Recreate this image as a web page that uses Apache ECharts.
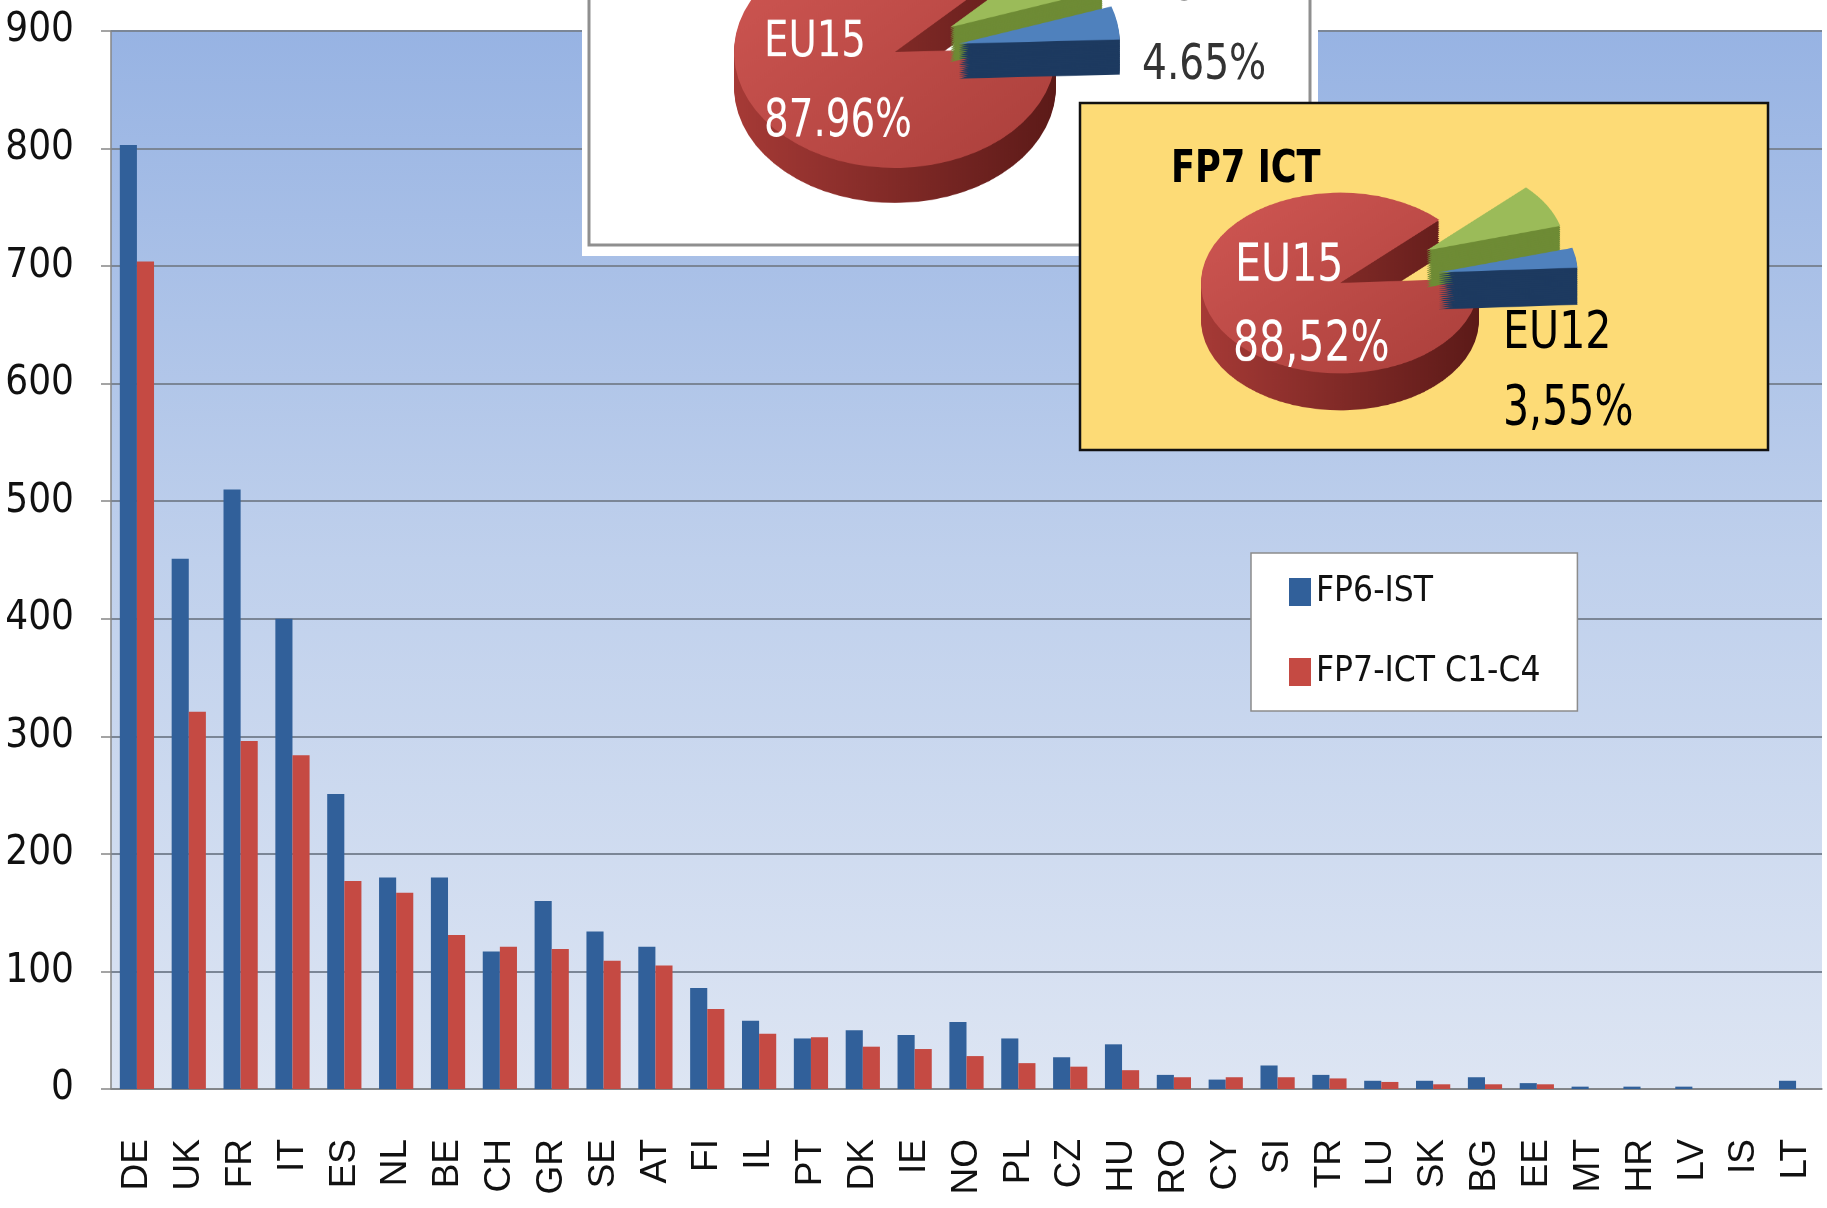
<!DOCTYPE html>
<html lang="en">
<head>
<meta charset="UTF-8">
<title>FP6-IST / FP7-ICT participations</title>
<script src="https://cdn.jsdelivr.net/npm/echarts@6/dist/echarts.min.js"></script>
<style>
    html, body { margin: 0; padding: 0; background: #fff; }
    #main { position: absolute; left: 0; top: 0; width: 1827px; height: 1208px; }
    .pie { position: absolute; transform-origin: 0 0; }
</style>
</head>
<body>
<div id="main"></div>
<div id="pieFp6" class="pie"></div>
<div id="pieFp7" class="pie"></div>
<script>
// bar chart data
var countries = ['DE', 'UK', 'FR', 'IT', 'ES', 'NL', 'BE', 'CH', 'GR', 'SE', 'AT', 'FI', 'IL', 'PT', 'DK', 'IE', 'NO',
    'PL', 'CZ', 'HU', 'RO', 'CY', 'SI', 'TR', 'LU', 'SK', 'BG', 'EE', 'MT', 'HR', 'LV', 'IS', 'LT'];
var fp6Values = [803, 451, 510, 400, 251, 180, 180, 117, 160, 134, 121, 86, 58, 43, 50, 46, 57,
    43, 27, 38, 12, 8, 20, 12, 7, 7, 10, 5, 2, 2, 2, 0, 7];
var fp7Values = [704, 321, 296, 284, 177, 167, 131, 121, 119, 109, 105, 68, 47, 44, 36, 34, 28,
    22, 19, 16, 10, 10, 10, 9, 6, 4, 4, 4, 0, 0, 0, 0, 0];
var seriesNames = ['FP6-IST', 'FP7-ICT C1-C4'];
var yMin = 0, yMax = 900, yStep = 100;

// pie insets (EU15 / other / EU12 shares, in %)
var shareNames = ['EU15', 'Other', 'EU12'];
var fp6Shares = [87.96, 7.39, 4.65];
var fp7Shares = [88.52, 7.93, 3.55];

var NARROW = "'Liberation Sans Narrow', 'DejaVu Sans Condensed', 'Open Sans', sans-serif";
var SANS = "'Liberation Sans', Arial, sans-serif";

var myChart = echarts.init(document.getElementById('main'));

// text squeezed horizontally to look like the condensed font of the original
function txt(text, x, y, size, color, bold, sx) {
    return {
        type: 'text', x: x, y: y, z: 20, silent: true, scaleX: sx || 0.85,
        style: {text: text, fill: color, font: (bold ? 'bold ' : '') + size + 'px ' + NARROW, verticalAlign: 'middle'}
    };
}

var option = {
    animation: false,
    backgroundColor: '#fff',
    grid: {
        left: 111, right: 5, top: 31, bottom: 119, show: true, borderWidth: 0,
        backgroundColor: {
            type: 'linear', x: 0, y: 0, x2: 0, y2: 1,
            colorStops: [{offset: 0, color: '#97B3E3'}, {offset: 0.5, color: '#BFD0EC'}, {offset: 1, color: '#DDE5F3'}]
        }
    },
    legend: {
        data: seriesNames, orient: 'vertical', left: 1251, top: 553, z: 30,
        backgroundColor: '#fff', borderColor: '#8c8c8c', borderWidth: 1.5,
        padding: [19, 37, 19, 38], itemWidth: 22, itemHeight: 28, itemGap: 40, icon: 'rect',
        textStyle: {fontSize: 35, lineHeight: 40, fontFamily: NARROW, color: '#111'}
    },
    xAxis: {
        type: 'category', data: countries,
        axisLine: {lineStyle: {color: '#868686', width: 1.5}},
        axisTick: {length: 12, lineStyle: {color: '#868686', width: 1.5}},
        axisLabel: {rotate: 90, interval: 0, margin: 50, fontSize: 37, color: '#111', fontFamily: SANS}
    },
    yAxis: {
        type: 'value', min: yMin, max: yMax, interval: yStep,
        axisLine: {show: true, lineStyle: {color: '#868686', width: 1.5}},
        axisTick: {show: true, length: 10, lineStyle: {color: '#868686', width: 1.5}},
        axisLabel: {margin: 37, fontSize: 40, color: '#111', fontFamily: NARROW},
        splitLine: {lineStyle: {color: '#7B8696', width: 2}}
    },
    series: [
        {name: seriesNames[0], type: 'bar', data: fp6Values, barGap: '0%', barCategoryGap: '34%',
            itemStyle: {color: '#31609A'}},
        {name: seriesNames[1], type: 'bar', data: fp7Values, barGap: '0%', barCategoryGap: '34%',
            itemStyle: {color: '#C54A43'}}
    ],
    graphic: [
        // FP6 inset (white)
        {type: 'rect', z: 10, silent: true, shape: {x: 582, y: 0, width: 736, height: 256}, style: {fill: '#fff'}},
        {type: 'rect', z: 11, silent: true, shape: {x: 589, y: -10, width: 721, height: 255},
            style: {fill: '#fff', stroke: '#8f8f8f', lineWidth: 3}},
        txt('EU12', 1145, -13, 50, '#333', false, 0.87),
        txt('4.65%', 1142, 66, 50, '#333', false, 0.87),
        // FP7 inset (yellow)
        {type: 'rect', z: 12, silent: true, shape: {x: 1080, y: 103, width: 688, height: 347},
            style: {fill: '#FDDB76', stroke: '#111', lineWidth: 2.5}},
        txt('FP7 ICT', 1171, 170, 45, '#000', true, 0.87),
        txt('EU12', 1503, 334, 52, '#000', false, 0.88),
        txt('3,55%', 1503, 410, 55, '#000', false, 0.83)
    ]
};
myChart.setOption(option);

// pseudo-3D tilted pie: a pie chart squashed vertically, stacked layers for the side
function drawPie(id, p, shares, labels) {
    var div = document.getElementById(id);
    div.style.left = p.left + 'px';
    div.style.top = p.top + 'px';
    div.style.width = p.width + 'px';
    div.style.height = (p.height / p.k) + 'px';
    div.style.transform = 'scaleY(' + p.k + ')';
    var chart = echarts.init(div);

    var cx = p.cx - p.left, cy = (p.cy - p.top) / p.k, depth = p.depth / p.k;
    var topColors = [
        {type: 'linear', x: 0, y: 0, x2: 1, y2: 1, colorStops: [{offset: 0, color: '#D05753'}, {offset: 1, color: '#AA3F3B'}]},
        '#9BBB59', '#4F81BD'
    ];
    var sideColors = [
        {type: 'linear', x: 0, y: 0, x2: 1, y2: 0, colorStops: [{offset: 0, color: '#A63A36'}, {offset: 1, color: '#5C1A18'}]},
        '#6E8B35', '#1D3A60'
    ];
    var steps = 18, series = [];
    for (var i = steps; i >= 0; i--) {
        var colors = i === 0 ? topColors : sideColors;
        series.push({
            type: 'pie', center: [cx, cy + depth * i / steps], radius: p.r,
            startAngle: p.startAngle, clockwise: true,
            selectedMode: 'multiple', selectedOffset: p.offset,
            silent: true, label: {show: false}, labelLine: {show: false},
            itemStyle: {borderWidth: 0},
            data: shareNames.map(function (n, j) {
                return {name: n, value: shares[j], selected: j > 0, itemStyle: {color: colors[j]}};
            })
        });
    }
    var graphic = labels.map(function (l) {
        return {
            type: 'text', x: l.x - p.left, y: (l.y - p.top) / p.k, scaleX: l.sx, scaleY: 1 / p.k, z: 50, silent: true,
            style: {text: l.text, fill: '#fff', font: l.size + 'px ' + NARROW, verticalAlign: 'middle'}
        };
    });
    chart.setOption({animation: false, series: series, graphic: graphic});
}

drawPie('pieFp6', {left: 700, top: -100, width: 430, height: 310, k: 0.72, cx: 895, cy: 52, r: 161,
    depth: 35, offset: 65, startAngle: 2}, fp6Shares,
    [{text: 'EU15', x: 764, y: 43, size: 50, sx: 0.86}, {text: '87.96%', x: 764, y: 123, size: 52, sx: 0.83}]);

drawPie('pieFp7', {left: 1160, top: 150, width: 480, height: 290, k: 0.65, cx: 1340, cy: 283, r: 139,
    depth: 37, offset: 100, startAngle: 3}, fp7Shares,
    [{text: 'EU15', x: 1235, y: 267, size: 52, sx: 0.88}, {text: '88,52%', x: 1233, y: 346, size: 55, sx: 0.83}]);
</script>
</body>
</html>
